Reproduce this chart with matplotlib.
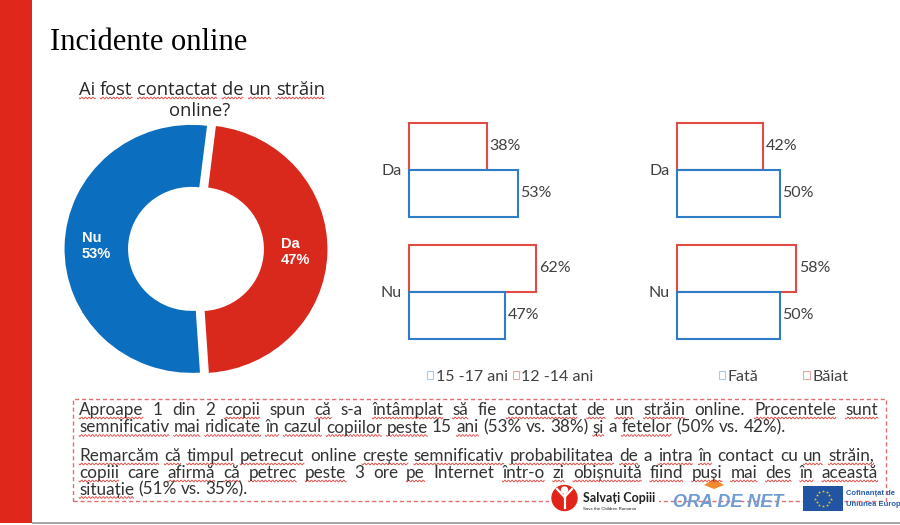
import numpy as np
import matplotlib.pyplot as plt
from matplotlib.patches import Rectangle, Circle, Polygon
from matplotlib.lines import Line2D

W, H = 900, 525

# ---- data ----
TITLE = 'Incidente online'
QUESTION = ['Ai fost contactat de un străin', 'online?']

pie_labels = ['Da', 'Nu']
pie_values = [47, 53]

bar_categories = ['Da', 'Nu']
age_labels = ['15 -17 ani', '12 -14 ani']
age_older = [53, 47]      # 15-17 ani
age_younger = [38, 62]    # 12-14 ani
gender_labels = ['Fată', 'Băiat']
girls = [50, 50]
boys = [42, 58]

PARA1 = ['Aproape 1 din 2 copii spun că s-a întâmplat să fie contactat de un străin online. Procentele sunt',
         'semnificativ mai ridicate în cazul copiilor peste 15 ani (53% vs. 38%) și a fetelor (50% vs. 42%).']
PARA2 = ['Remarcăm că timpul petrecut online crește semnificativ probabilitatea de a intra în contact cu un străin,',
         'copiii care afirmă că petrec peste 3 ore pe Internet într-o zi obișnuită fiind puși mai des în această',
         'situație (51% vs. 35%).']

# words the spell checker underlined in the slide
FLAGGED = {'Ai', 'fost', 'contactat', 'de', 'un', 'străin', 'Aproape', 'copii', 'că', 'întâmplat', 'să',
           'Procentele', 'sunt', 'semnificativ', 'mai', 'ridicate', 'în', 'cazul', 'copiilor', 'peste',
           'ani', 'și', 'fetelor', 'Remarcăm', 'timpul', 'petrecut', 'crește', 'probabilitatea', 'intra',
           'copiii', 'afirmă', 'petrec', 'pe', 'într-o', 'zi', 'obișnuită', 'fiind', 'puși', 'des',
           'această', 'situație'}

RED = '#D9291D'
BLUE = '#0C6EBF'
BAR_RED = '#E04B45'
BAR_BLUE = '#2F7DC6'
NARROW = 'Lato'
TXT = '#333333'

fig = plt.figure(figsize=(W / 100, H / 100), dpi=100)
renderer = fig.canvas.get_renderer()


def P(x, y):
    # pixel (from top-left) -> inches for dpi_scale_trans
    return x / 100, (H - y) / 100


def px_axes(x, y, w, h):
    return fig.add_axes([x / W, 1 - (y + h) / H, w / W, h / H])


def squiggle(xa, xb, y):
    xs = np.arange(xa, xb, 0.5)
    ys = y + 0.9 * np.sin(2 * np.pi * (xs - xa) / 3.6)
    fig.add_artist(Line2D(xs / 100, (H - ys) / 100, transform=fig.dpi_scale_trans,
                          color='#E0403A', lw=0.6))


def space_width(**kw):
    a = fig.text(0, 0, 'x x', **kw)
    b = fig.text(0, 0, 'xx', **kw)
    w = a.get_window_extent(renderer).width - b.get_window_extent(renderer).width
    a.remove()
    b.remove()
    return w


def place_line(line, y, x0=None, x1=None, center=None, **kw):
    words = line.split(' ')
    items = []
    for w in words:
        t = fig.text(0, 0, w, transform=fig.dpi_scale_trans, va='baseline', ha='left', **kw)
        items.append((w, t, t.get_window_extent(renderer).width))
    total = sum(it[2] for it in items)
    gap = space_width(**kw)
    if x1 is not None:
        gap = (x1 - x0 - total) / (len(items) - 1)
    if center is not None:
        x0 = center - (total + gap * (len(items) - 1)) / 2
    x = x0
    for w, t, wd in items:
        t.set_position(P(x, y))
        if w.strip('.,()?') in FLAGGED:
            squiggle(x, x + wd, y + 3)
        x += wd + gap


# ---- background decorations ----
fig.add_artist(Rectangle(P(0, 523), 0.32, 5.23, transform=fig.dpi_scale_trans,
                         color='#E0271C', lw=0))
fig.add_artist(Rectangle(P(32, 523.5), 8.68, 0.02, transform=fig.dpi_scale_trans,
                         color='#A8A8A8', lw=0))

fig.text(*P(50, 49.5), TITLE, transform=fig.dpi_scale_trans, family='Liberation Serif',
         fontsize=22, va='baseline', color='black')

place_line(QUESTION[0], 95, center=202, family='Open Sans', fontsize=13.2, color='#262626')
fig.text(*P(200, 116), QUESTION[1], transform=fig.dpi_scale_trans, family='Open Sans',
         fontsize=13.2, ha='center', va='baseline', color='#262626')

# ---- donut ----
ax = px_axes(56.3, 112.6, 279.4, 272.8)
ax.pie(pie_values, labels=[f'{l}\n{v}%' for l, v in zip(pie_labels, pie_values)],
       colors=[RED, BLUE], startangle=83, counterclock=False, explode=[0.035, 0.035],
       labeldistance=0.75, wedgeprops=dict(width=0.5, edgecolor='none'),
       textprops=dict(color='white', fontweight='bold', fontsize=10.5, ha='center',
                      multialignment='left', family='Liberation Sans', linespacing=1.15))
ax.set_aspect('auto')
ax.set_xlim(-1.1, 1.1)
ax.set_ylim(-1.1, 1.1)

# ---- bar panels ----
h = 0.385
y = np.arange(len(bar_categories))


def bar_panel(xpix, blue_vals, red_vals, legend_labels, legend_x, colspace):
    ax = px_axes(xpix, 122.7, 205, 216.3)
    rb = ax.barh(y - h / 2, red_vals, height=h, facecolor='white', edgecolor=BAR_RED,
                 lw=1.5, clip_on=False)
    bb = ax.barh(y + h / 2, blue_vals, height=h, facecolor='white', edgecolor=BAR_BLUE,
                 lw=1.5, clip_on=False)
    for bars in (rb, bb):
        ax.bar_label(bars, fmt='%d%%', padding=2, family=NARROW, fontsize=11.5, color='#404040')
    ax.set_xlim(0, 100)
    ax.set_ylim(1 + h, -h)
    ax.set_yticks(y, bar_categories)
    ax.set_xticks([])
    ax.tick_params(axis='y', length=0, pad=5, labelsize=11.5, labelcolor='#404040')
    for lab in ax.get_yticklabels():
        lab.set_family(NARROW)
    for s in ax.spines.values():
        s.set_visible(False)
    handles = [Rectangle((0, 0), 1, 1, facecolor='white', edgecolor='#A9C9E8', lw=0.8),
               Rectangle((0, 0), 1, 1, facecolor='white', edgecolor='#EBA5A5', lw=0.8)]
    ax.legend(handles, legend_labels, loc='center left',
              bbox_to_anchor=(legend_x / W, 1 - 377 / H), bbox_transform=fig.transFigure,
              ncol=2, frameon=False, borderpad=0, borderaxespad=0, handlelength=0.4,
              handleheight=0.4, handletextpad=0.15, columnspacing=colspace,
              prop=dict(family=NARROW, size=11.5), labelcolor='#404040')


bar_panel(409, age_older, age_younger, age_labels, 427, 0.3)
bar_panel(677, girls, boys, gender_labels, 719, 2.8)

# ---- text box ----
fig.add_artist(Rectangle(P(72.5, 501), 8.135, 1.02, transform=fig.dpi_scale_trans,
                         fill=False, edgecolor='#E27070', lw=1, linestyle=(0, (3, 2))))

tk = dict(family=NARROW, fontsize=12.3, color=TXT)
place_line(PARA1[0], 415, x0=79, x1=878, **tk)
place_line(PARA1[1], 432.5, x0=79, **tk)
place_line(PARA2[0], 461, x0=79, x1=874, **tk)
place_line(PARA2[1], 478, x0=79, x1=878, **tk)
place_line(PARA2[2], 494.5, x0=79, **tk)

# ---- logos ----
fig.add_artist(Rectangle(P(549, 514), 1.1, 0.32, transform=fig.dpi_scale_trans,
                         color='white', lw=0))
fig.add_artist(Circle(P(564.5, 498), 0.125, transform=fig.dpi_scale_trans, color='#E2231A'))
fig.add_artist(Circle(P(564.5, 490), 0.03, transform=fig.dpi_scale_trans, color='white'))
for xa, ya, xb, yb in [(557, 489, 564.5, 497), (572, 489, 564.5, 497), (564.5, 494, 564.5, 508)]:
    fig.add_artist(Line2D([xa / 100, xb / 100], [(H - ya) / 100, (H - yb) / 100],
                          transform=fig.dpi_scale_trans, color='white', lw=1.6))
fig.text(*P(583, 502), 'Salvați Copiii', transform=fig.dpi_scale_trans, family=NARROW,
         fontweight='bold', fontsize=9, color='#222222', va='baseline')
fig.text(*P(583, 510), 'Save the Children Romania', transform=fig.dpi_scale_trans,
         family='Liberation Sans', fontsize=3.2, color='#222222', va='baseline')

fig.text(*P(673, 507), 'ORA DE NET', transform=fig.dpi_scale_trans, family='Liberation Sans',
         fontweight='bold', style='italic', fontsize=13, color='#6E9CD3', va='baseline')
fig.add_artist(Polygon([P(704, 485), P(714, 479), P(724, 485), P(714, 489)], closed=True,
                       transform=fig.dpi_scale_trans, color='#F08A2C', lw=0))

fig.add_artist(Rectangle(P(803, 511), 0.4, 0.25, transform=fig.dpi_scale_trans,
                         color='#2155A4', lw=0))
ang = np.linspace(0, 2 * np.pi, 12, endpoint=False)
fig.add_artist(Line2D((823 + 7.5 * np.cos(ang)) / 100, (H - 498.5 + 7.5 * np.sin(ang)) / 100,
                      transform=fig.dpi_scale_trans, ls='none', marker='*', ms=2.2,
                      color='#F5D10A', mec='none'))
fig.text(*P(846, 495), 'Cofinanțat de', transform=fig.dpi_scale_trans, family='Liberation Sans',
         fontweight='bold', fontsize=5.5, color='#2A5CAA', va='baseline')
fig.text(*P(846, 505.5), 'Uniunea Europeană', transform=fig.dpi_scale_trans,
         family='Liberation Sans', fontweight='bold', fontsize=5.5, color='#2A5CAA', va='baseline')

fig.savefig('out.png', dpi=100)
